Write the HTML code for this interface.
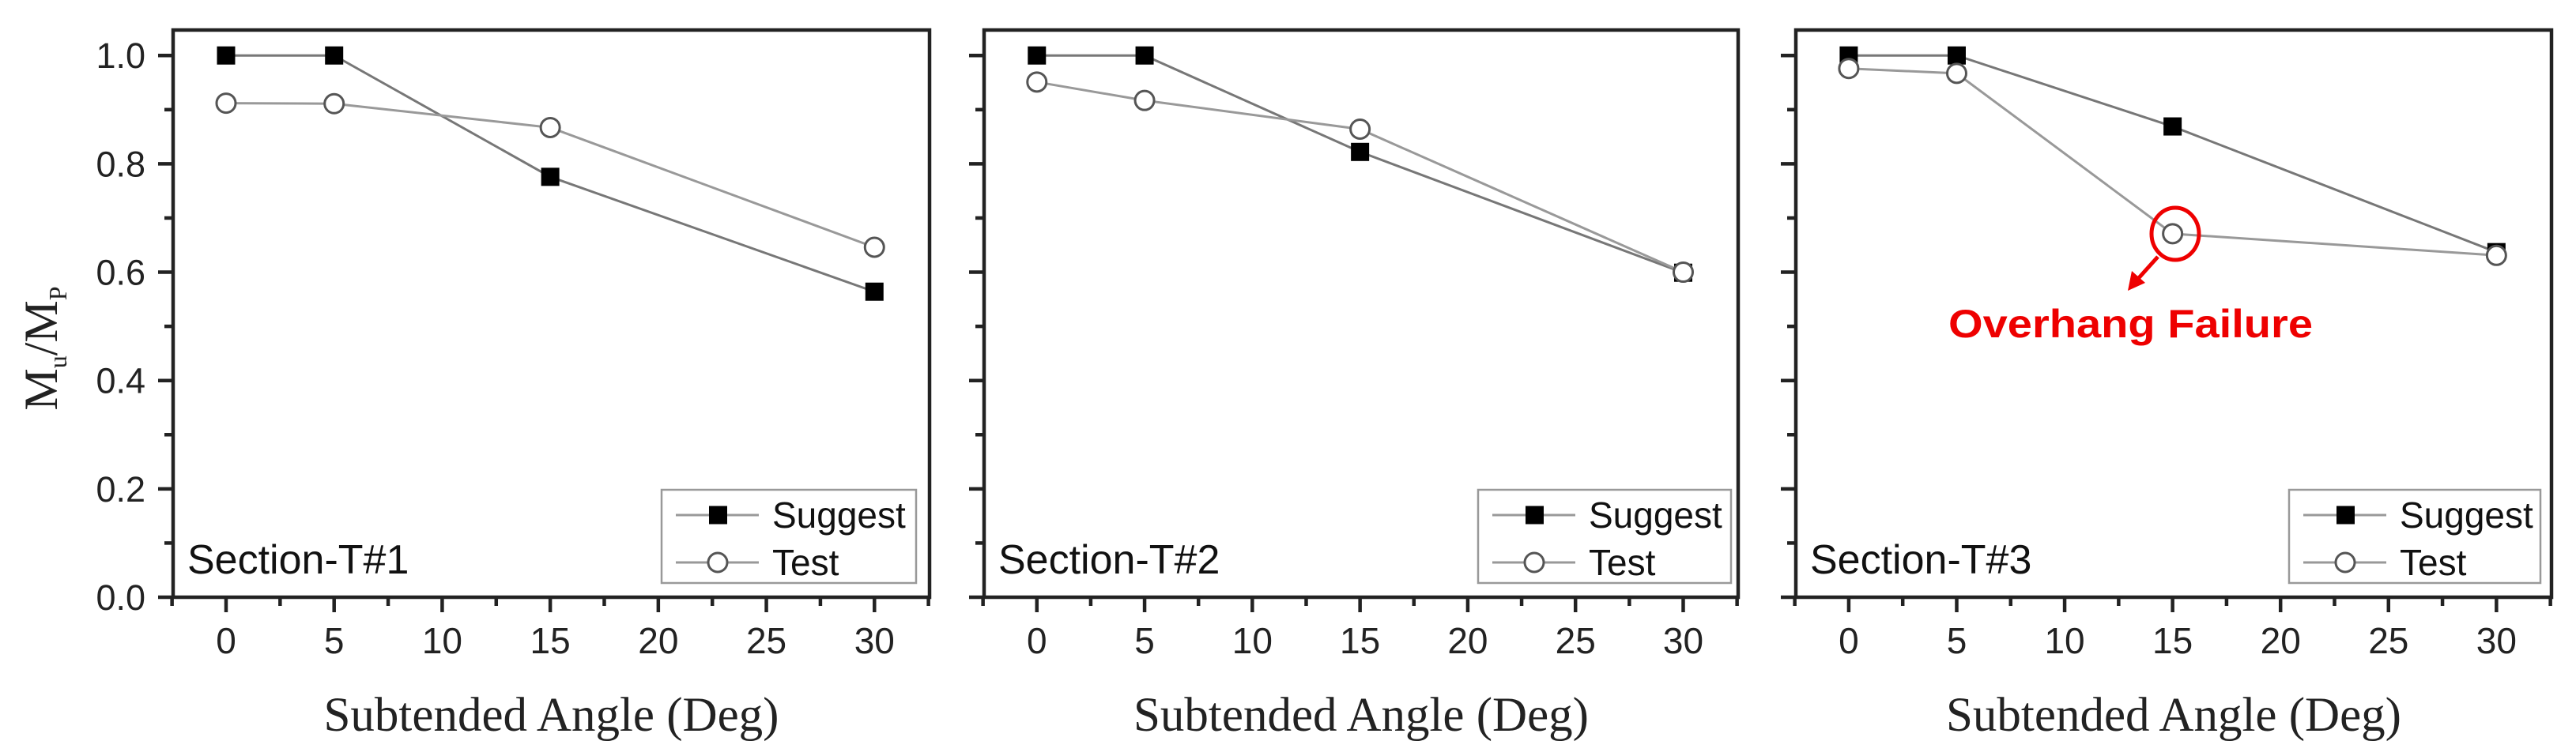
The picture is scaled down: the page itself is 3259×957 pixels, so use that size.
<!DOCTYPE html>
<html><head><meta charset="utf-8"><style>
html,body{margin:0;padding:0;background:#fff;}
svg{display:block;}
</style></head><body>
<svg id="chart" xmlns="http://www.w3.org/2000/svg" width="3259" height="957" viewBox="0 0 3259 957"></svg>
<script>
const xTicks = [0, 5, 10, 15, 20, 25, 30];
const yTickLabels = ["0.0", "0.2", "0.4", "0.6", "0.8", "1.0"];
const yTicks = [0, 0.2, 0.4, 0.6, 0.8, 1.0];
const angles = [0, 5, 15, 30];
const sectionLabels = ["Section-T#1", "Section-T#2", "Section-T#3"];
const suggest1 = [1.0, 1.0, 0.776, 0.564];
const test1 = [0.912, 0.911, 0.867, 0.646];
const suggest2 = [1.0, 1.0, 0.822, 0.599];
const test2 = [0.951, 0.917, 0.864, 0.600];
const suggest3 = [1.0, 1.0, 0.869, 0.637];
const test3 = [0.976, 0.967, 0.671, 0.631];
const suggestSeries = [suggest1, suggest2, suggest3];
const testSeries = [test1, test2, test3];

const NS = "http://www.w3.org/2000/svg";
const svg = document.getElementById("chart");
function mk(tag, attrs, parent) {
  const e = document.createElementNS(NS, tag);
  for (const k in attrs) e.setAttribute(k, attrs[k]);
  (parent || svg).appendChild(e);
  return e;
}
const panels = [{l:219, r:1176, lg:[837,1159]}, {l:1245, r:2199, lg:[1870,2190]}, {l:2272, r:3228, lg:[2896,3214]}];
const plotTop = 38, plotBottom = 756;
const xMin = -2.45, xMax = 32.55, yMin = 0, yMax = 1.047;

panels.forEach((p, i) => {
  const g = mk("g", {});
  
  
  const X = v => p.l + (v - xMin) / (xMax - xMin) * (p.r - p.l);
  const Y = v => plotBottom - (v - yMin) / (yMax - yMin) * (plotBottom - plotTop);
  const frame = mk("rect", {x:p.l, y:plotTop, width:p.r-p.l, height:plotBottom-plotTop, fill:"none", stroke:"#222", "stroke-width":4.5}, g);
  
  
  yTicks.forEach((v, k) => {
    const t = mk("line", {x1:p.l-19, x2:p.l, y1:Y(v), y2:Y(v), stroke:"#222", "stroke-width":4.5}, g);
    
    
    if (k < yTicks.length - 1) {
      const m = mk("line", {x1:p.l-11, x2:p.l, y1:Y(v+0.1), y2:Y(v+0.1), stroke:"#222", "stroke-width":4.5}, g);
      
      
    }
    if (i === 0) {
      const lb = mk("text", {x:184, y:Y(v)+16, "text-anchor":"end", "font-family":"Liberation Sans, sans-serif", "font-size":45, fill:"#222"}, g);
      lb.textContent = yTickLabels[k];
      
      
    }
  });
  xTicks.forEach((v, k) => {
    const t = mk("line", {x1:X(v), x2:X(v), y1:plotBottom, y2:plotBottom+19, stroke:"#222", "stroke-width":4.5}, g);
    
    
    const m = mk("line", {x1:X(v-2.5), x2:X(v-2.5), y1:plotBottom, y2:plotBottom+11, stroke:"#222", "stroke-width":4.5}, g);
    
    
    const lb = mk("text", {x:X(v), y:827, "text-anchor":"middle", "font-family":"Liberation Sans, sans-serif", "font-size":46, fill:"#222"}, g);
    lb.textContent = xTicks[k];
    
    
  });
  const mx = mk("line", {x1:X(32.5), x2:X(32.5), y1:plotBottom, y2:plotBottom+11, stroke:"#222", "stroke-width":4.5}, g);
  
  
  const xt = mk("text", {x:(p.l+p.r)/2, y:925, "text-anchor":"middle", "font-family":"Liberation Serif, serif", "font-size":61, fill:"#222"}, g);
  xt.textContent = "Subtended Angle (Deg)";
  
  
  const sl = mk("text", {x:p.l+18, y:726, "font-family":"Liberation Sans, sans-serif", "font-size":52, fill:"#111"}, g);
  sl.textContent = sectionLabels[i];
  
  
  const sPts = angles.map((a, k) => X(a) + "," + Y(suggestSeries[i][k])).join(" ");
  const tPts = angles.map((a, k) => X(a) + "," + Y(testSeries[i][k])).join(" ");
  const sl1 = mk("polyline", {points:sPts, fill:"none", stroke:"#777", "stroke-width":3}, g);
  
  
  const tl1 = mk("polyline", {points:tPts, fill:"none", stroke:"#999", "stroke-width":3}, g);
  
  
  angles.forEach((a, k) => {
    const sq = mk("rect", {x:X(a)-11.5, y:Y(suggestSeries[i][k])-11.5, width:23, height:23, fill:"#000"}, g);
    
    
  });
  angles.forEach((a, k) => {
    const c = mk("circle", {cx:X(a), cy:Y(testSeries[i][k]), r:12, fill:"#fff", stroke:"#555", "stroke-width":3}, g);
    
    
  });
  const lg = mk("g", {}, g);
  
  
  const lx1 = p.lg[0], lx2 = p.lg[1];
  mk("rect", {x:lx1, y:620, width:lx2-lx1, height:118, fill:"#fff", stroke:"#999", "stroke-width":2.5}, lg);
  const rows = [["Suggest", 652], ["Test", 712]];
  rows.forEach((r, k) => {
    const e = mk("g", {}, lg);
    
    
    mk("line", {x1:lx1+18, x2:lx1+123, y1:r[1], y2:r[1], stroke:"#999", "stroke-width":3}, e);
    if (k === 0) mk("rect", {x:lx1+60, y:r[1]-11.5, width:23, height:23, fill:"#000"}, e);
    else mk("circle", {cx:lx1+71, cy:r[1], r:12, fill:"#fff", stroke:"#555", "stroke-width":3}, e);
    const tx = mk("text", {x:lx1+140, y:r[1]+16, "font-family":"Liberation Sans, sans-serif", "font-size":46, fill:"#111"}, e);
    tx.textContent = r[0];
  });
});

const yt = mk("text", {x:0, y:0, transform:"translate(72,441) rotate(-90)", "text-anchor":"middle", "font-family":"Liberation Serif, serif", "font-size":60, fill:"#222"});


const ts1 = mk("tspan", {}, yt); ts1.textContent = "M";
const ts2 = mk("tspan", {dy:12, "font-size":32}, yt); ts2.textContent = "u";
const ts3 = mk("tspan", {dy:-12}, yt); ts3.textContent = "/M";
const ts4 = mk("tspan", {dy:12, "font-size":32}, yt); ts4.textContent = "P";

const ann = mk("g", {});


mk("ellipse", {cx:2752, cy:296, rx:30, ry:33, fill:"none", stroke:"#e00", "stroke-width":5}, ann);
mk("line", {x1:2730, y1:325, x2:2703, y2:355, stroke:"#e00", "stroke-width":5}, ann);
mk("polygon", {points:"2692,368 2697,343 2714,358", fill:"#e00"}, ann);
const at = mk("text", {x:2465, y:427, "font-family":"Liberation Sans, sans-serif", "font-weight":"bold", "font-size":50, fill:"#e00", textLength:461, lengthAdjust:"spacingAndGlyphs"}, ann);
at.textContent = "Overhang Failure";
</script>
</body></html>
